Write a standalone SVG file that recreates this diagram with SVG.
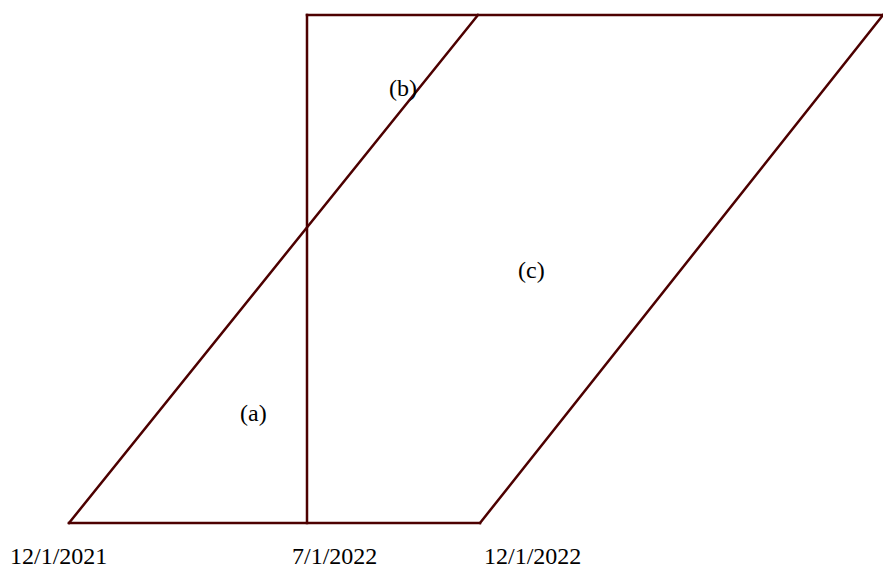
<svg xmlns="http://www.w3.org/2000/svg" width="883" height="568" viewBox="0 0 883 568">
<style>
.ln{stroke:#4d0000;stroke-width:2.5;fill:none;stroke-linecap:square}
text{font-family:"Liberation Serif","Times New Roman",serif;font-size:24px;fill:#000}
</style>
<rect width="883" height="568" fill="#fff"/>
<g id="connectors">
<line class="ln" x1="69" y1="523" x2="480" y2="523"/>
<line class="ln" x1="307" y1="15" x2="883" y2="15"/>
<line class="ln" x1="307" y1="15" x2="307" y2="523"/>
<line class="ln" x1="69" y1="523" x2="478" y2="15"/>
<line class="ln" x1="480" y1="523" x2="883" y2="15"/>
</g>
<g id="label-a"><text x="240" y="421">(a)</text></g>
<g id="label-b"><text x="389" y="96">(b)</text></g>
<g id="label-c"><text x="518" y="278">(c)</text></g>
<g id="axis-labels">
<text x="10" y="564">12/1/2021</text>
<text x="292" y="564">7/1/2022</text>
<text x="484" y="564">12/1/2022</text>
</g>
</svg>
